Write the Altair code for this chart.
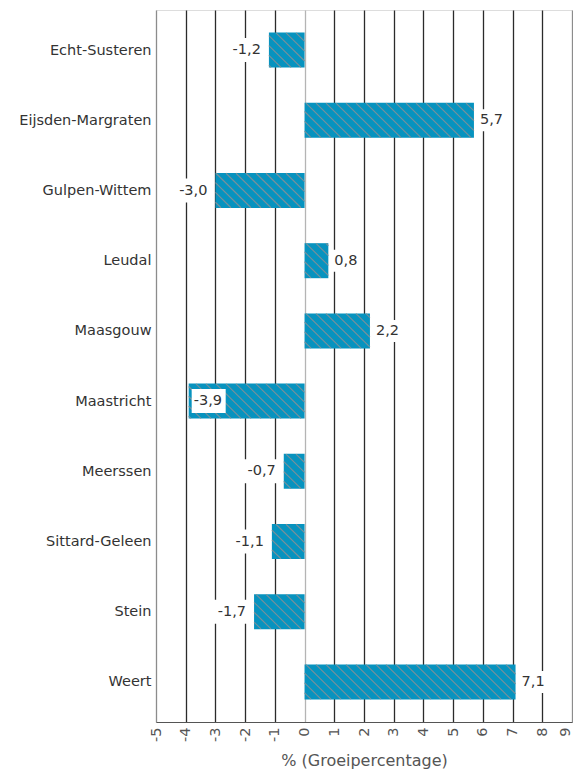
import json
import altair as alt
import pandas as pd

# ---- data ----
categories = ["Echt-Susteren", "Eijsden-Margraten", "Gulpen-Wittem", "Leudal", "Maasgouw",
              "Maastricht", "Meerssen", "Sittard-Geleen", "Stein", "Weert"]
values = [-1.2, 5.7, -3.0, 0.8, 2.2, -3.9, -0.7, -1.1, -1.7, 7.1]
x_ticks = list(range(-5, 10))
x_title = "% (Groeipercentage)"

# ---- layout / style constants ----
PLOT_W, PLOT_H = 416, 712
X_MIN, X_MAX = -5, 9
BAR_PX = 35
HATCH_STEP = 10
BLUE = "#0793BF"
HATCH = "#7d8f98"
FONT = "DejaVu Sans"
FS = 14.5

px_per_x = PLOT_W / (X_MAX - X_MIN)
px_per_y = PLOT_H / len(categories)

df = pd.DataFrame({
    "cat": categories,
    "value": values,
    "idx": list(range(len(categories))),
    "label": [f"{v:.1f}".replace(".", ",") for v in values],
})

# hatch segments (diagonal "\" lines clipped to each bar), derived from the values
rows = []
for i, v in enumerate(values):
    xl = (min(0, v) - X_MIN) * px_per_x
    xr = (max(0, v) - X_MIN) * px_per_x
    yt = (i + 0.5) * px_per_y - BAR_PX / 2
    h = BAR_PX
    c = int((xl - h) // HATCH_STEP) * HATCH_STEP
    while c <= xr:
        xa, xb = max(c, xl), min(c + h, xr)
        if xb - xa > 0.5:
            rows.append({
                "hx1": X_MIN + xa / px_per_x,
                "hx2": X_MIN + xb / px_per_x,
                "hy1": -0.5 + (yt + (xa - c)) / px_per_y,
                "hy2": -0.5 + (yt + (xb - c)) / px_per_y,
            })
        c += HATCH_STEP
hatch = pd.DataFrame(rows)

xscale = alt.Scale(domain=[X_MIN, X_MAX], nice=False, zero=False)
yscale = alt.Scale(domain=[-0.5, len(categories) - 0.5], nice=False, zero=False, reverse=True)

grid_color = {
    "condition": [
        {"test": "datum.value === 0", "value": "#b4b4b4"},
        {"test": f"datum.value === {X_MIN} || datum.value === {X_MAX}", "value": "#8c8c8c"},
    ],
    "value": "#2b2b2b",
}
label_offset = {
    "condition": [{"test": f"datum.value === {X_MAX}", "value": -7}],
    "value": 0,
}

xaxis = alt.Axis(values=x_ticks, grid=True, gridColor=grid_color, gridWidth=1.3, ticks=False,
                 domainColor="#555555", labelAngle=270, labelFont=FONT, labelFontSize=FS,
                 labelColor="#555555", labelPadding=5, labelOverlap=False, labelFlush=False,
                 labelOffset=label_offset, labelExpr="datum.value + ''",
                 title=x_title, titleFont=FONT, titleFontSize=16, titleFontWeight="normal",
                 titleColor="#555555", titlePadding=11)
yaxis = alt.Axis(values=list(range(len(categories))), grid=False, ticks=False, domain=False,
                 labelExpr=f"{json.dumps(categories)}[datum.value]", labelFont=FONT,
                 labelFontSize=FS, labelColor="#333333", labelPadding=5, labelOverlap=False,
                 title=None)

base = alt.Chart(df)

bars = base.mark_bar(size=BAR_PX, color=BLUE, orient="horizontal").encode(
    x=alt.X("value:Q", scale=xscale, axis=xaxis),
    x2=alt.datum(0),
    y=alt.Y("idx:Q", scale=yscale, axis=yaxis),
)

hatch_layer = alt.Chart(hatch).mark_rule(color=HATCH, strokeWidth=1.1).encode(
    x=alt.X("hx1:Q", scale=xscale, axis=xaxis),
    x2="hx2:Q",
    y=alt.Y("hy1:Q", scale=yscale, axis=yaxis),
    y2="hy2:Q",
)

inside_limit = X_MIN + 50 / px_per_x

def box(path, flt):
    return base.transform_filter(flt).mark_point(
        shape=path, size=4, filled=True, color="white", opacity=1, strokeWidth=0
    ).encode(
        x=alt.X("value:Q", scale=xscale, axis=xaxis),
        y=alt.Y("idx:Q", scale=yscale, axis=yaxis),
    )

def txt(align, dx, flt):
    return base.transform_filter(flt).mark_text(
        align=align, dx=dx, baseline="middle", font=FONT, fontSize=FS, color="#333333"
    ).encode(
        x=alt.X("value:Q", scale=xscale, axis=xaxis),
        y=alt.Y("idx:Q", scale=yscale, axis=yaxis),
        text="label:N",
    )

f_pos = "datum.value >= 0"
f_neg = f"datum.value < 0 && datum.value >= {inside_limit}"
f_in = f"datum.value < {inside_limit}"

layers = [
    bars,
    hatch_layer,
    box("M2,-11H34V11H2Z", f_pos),
    box("M-42,-12H-4V12H-42Z", f_neg),
    box("M3,-12H37V12H3Z", f_in),
    txt("left", 6, f_pos),
    txt("right", -8, f_neg),
    txt("left", 5, f_in),
]

chart = alt.layer(*layers).properties(
    width=PLOT_W, height=PLOT_H, autosize="none",
    padding={"left": 148, "top": 2, "right": 1, "bottom": 48},
).configure_view(stroke="#6e6e6e", strokeWidth=1).configure(background="white")

chart.save("out.html", embed_options={"renderer": "svg", "actions": False})
